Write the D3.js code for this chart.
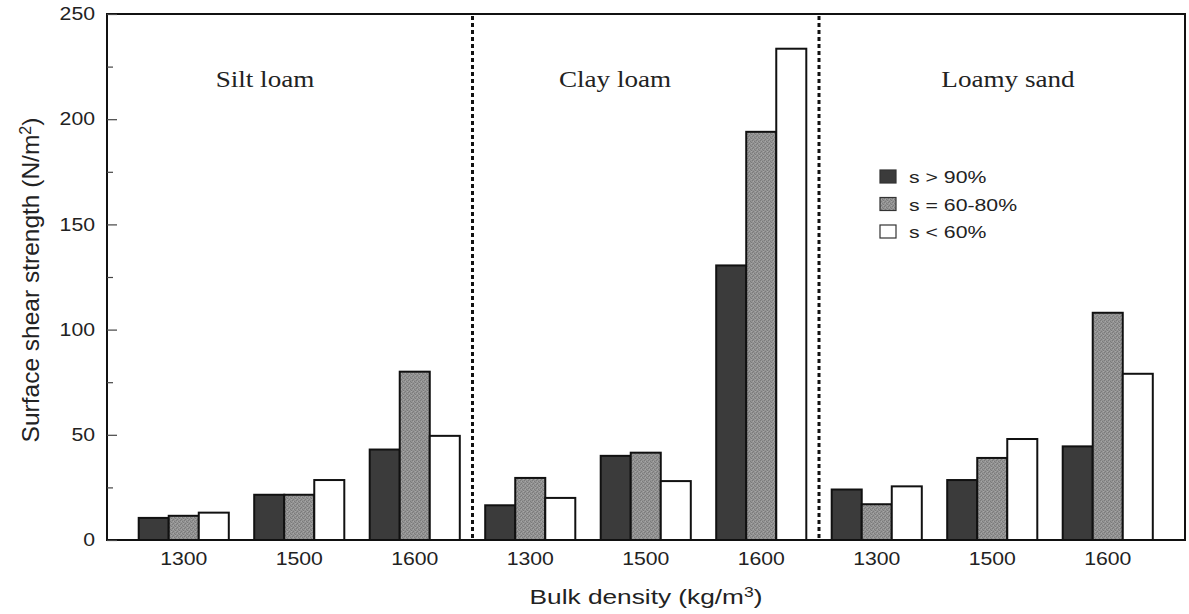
<!DOCTYPE html>
<html>
<head>
<meta charset="utf-8">
<script src="https://cdn.jsdelivr.net/npm/d3@7"></script>
<style>
  body { margin: 0; background: #fff; }
  svg { display: block; }
</style>
</head>
<body>
<svg id="chart" width="1189" height="614"></svg>
<script>
// ---- data ----
const soils = ["Silt loam", "Clay loam", "Loamy sand"];
const densities = ["1300", "1500", "1600"];
const seriesNames = ["s > 90%", "s = 60-80%", "s < 60%"];
// values per soil, per density: [s>90%, s=60-80%, s<60%]
const siltLoam  = [[10.5, 11.5, 13], [21.5, 21.5, 28.5], [43, 80, 49.5]];
const clayLoam  = [[16.5, 29.5, 20], [40, 41.5, 28], [130.5, 194, 233.5]];
const loamySand = [[24, 17, 25.5], [28.5, 39, 48], [44.5, 108, 79]];
const yTicks = [0, 50, 100, 150, 200, 250];
const yMinorTicks = [25, 75, 125, 175, 225];

const soilValues = [siltLoam, clayLoam, loamySand];
const colors = ["#3b3b3b", "#8c8c8c", "#ffffff"];

// ---- layout ----
const svg = d3.select("#chart");
const frame = { left: 107, right: 1185, top: 14, bottom: 540 };
const SANS = "Liberation Sans, Arial, Helvetica, sans-serif";
const SERIF = "Liberation Serif, Times New Roman, serif";
const SX = 1.18; // horizontal stretch of text seen in the reference

const groups = [];
soils.forEach((s, si) => densities.forEach((d, di) => groups.push({ key: si + "-" + di, soil: si, dens: d, vals: soilValues[si][di] })));

const x0 = d3.scaleBand()
  .domain(groups.map(g => g.key))
  .range([126, 1165.5])
  .paddingInner(0.22)
  .paddingOuter(0.11);

const x1 = d3.scaleBand()
  .domain(d3.range(seriesNames.length))
  .range([0, x0.bandwidth()]);

const y = d3.scaleLinear().domain([0, 250]).range([frame.bottom, frame.top]);

// subtle stipple pattern for the middle series
const defs = svg.append("defs");
const pat = defs.append("pattern").attr("id", "stip").attr("patternUnits", "userSpaceOnUse")
  .attr("width", 4).attr("height", 4);
pat.append("rect").attr("width", 4).attr("height", 4).attr("fill", "#939393");
[[0, 0], [2, 1], [1, 3], [3, 2]].forEach(([a, b]) =>
  pat.append("rect").attr("x", a).attr("y", b).attr("width", 1).attr("height", 1).attr("fill", "#7b7b7b"));
[[1, 1], [3, 3]].forEach(([a, b]) =>
  pat.append("rect").attr("x", a).attr("y", b).attr("width", 1).attr("height", 1).attr("fill", "#a6a6a6"));
const fills = [colors[0], "url(#stip)", colors[2]];

// ---- bars ----
const gBars = svg.append("g");
groups.forEach(g => {
  gBars.selectAll(null)
    .data(g.vals)
    .enter().append("rect")
    .attr("x", (v, i) => x0(g.key) + x1(i))
    .attr("y", v => y(v))
    .attr("width", x1.bandwidth())
    .attr("height", v => y(0) - y(v))
    .attr("fill", (v, i) => fills[i])
    .attr("stroke", "#111")
    .attr("stroke-width", 2);
});

// ---- dashed dividers ----
[1, 2].forEach(k => {
  const a = x0(groups[k * 3 - 1].key) + x0.bandwidth();
  const b = x0(groups[k * 3].key);
  const xm = (a + b) / 2;
  svg.append("line")
    .attr("x1", xm).attr("x2", xm)
    .attr("y1", frame.top + 2).attr("y2", frame.bottom - 2)
    .attr("stroke", "#111")
    .attr("stroke-width", 3)
    .attr("stroke-dasharray", "4,3");
});

// ---- frame ----
svg.append("rect")
  .attr("x", frame.left).attr("y", frame.top)
  .attr("width", frame.right - frame.left)
  .attr("height", frame.bottom - frame.top)
  .attr("fill", "none")
  .attr("stroke", "#111")
  .attr("stroke-width", 2);

// ---- y axis ----
const yAxis = d3.axisRight(y).tickValues(yTicks).tickSize(10).tickFormat("");
const gy = svg.append("g").attr("transform", `translate(${frame.left},0)`).call(yAxis);
gy.select(".domain").remove();
gy.selectAll(".tick line").attr("stroke", "#444").attr("stroke-width", 1.2);

const yMinor = d3.axisRight(y).tickValues(yMinorTicks).tickSize(6).tickFormat("");
const gym = svg.append("g").attr("transform", `translate(${frame.left},0)`).call(yMinor);
gym.select(".domain").remove();
gym.selectAll(".tick line").attr("stroke", "#444").attr("stroke-width", 1.2);

const yLab = d3.axisLeft(y).tickValues(yTicks).tickSize(0).tickPadding(12);
const gyl = svg.append("g").attr("transform", `translate(${frame.left},0)`).call(yLab);
gyl.select(".domain").remove();
gyl.selectAll(".tick text")
  .attr("font-family", SANS)
  .attr("font-size", 18).attr("fill", "#222")
  .attr("x", -12 / SX)
  .attr("transform", `scale(${SX},1)`);

// ---- x axis labels ----
const xAxis = d3.axisBottom(x0).tickSize(0).tickPadding(12).tickFormat(k => groups.find(g => g.key === k).dens);
const gx = svg.append("g").attr("transform", `translate(0,${frame.bottom})`).call(xAxis);
gx.select(".domain").remove();
gx.selectAll(".tick text")
  .attr("font-family", SANS)
  .attr("font-size", 18).attr("fill", "#222")
  .attr("transform", `scale(${SX},1)`);

// ---- axis titles ----
const xt = svg.append("text")
  .attr("transform", `translate(646,604) scale(1.25,1)`)
  .attr("text-anchor", "middle")
  .attr("font-family", SANS)
  .attr("font-size", 21).attr("fill", "#222");
xt.append("tspan").text("Bulk density (kg/m");
xt.append("tspan").attr("baseline-shift", "super").attr("font-size", 14).text("3");
xt.append("tspan").text(")");

const yt = svg.append("text")
  .attr("transform", "translate(39,280) rotate(-90)")
  .attr("text-anchor", "middle")
  .attr("font-family", SANS)
  .attr("font-size", 24.5).attr("fill", "#222");
yt.append("tspan").text("Surface shear strength (N/m");
yt.append("tspan").attr("baseline-shift", "super").attr("font-size", 16).text("2");
yt.append("tspan").text(")");

// ---- region labels ----
const labelCx = [265, 615, 1008];
soils.forEach((s, si) => {
  svg.append("text")
    .attr("transform", `translate(${labelCx[si]},87) scale(1.18,1)`)
    .attr("text-anchor", "middle")
    .attr("font-family", SERIF)
    .attr("font-size", 23).attr("fill", "#222")
    .text(s);
});

// ---- legend ----
const lg = svg.append("g").attr("transform", "translate(880,170)");
seriesNames.forEach((n, i) => {
  lg.append("rect")
    .attr("x", 0).attr("y", i * 27.5)
    .attr("width", 16).attr("height", 13)
    .attr("fill", fills[i])
    .attr("stroke", "#333").attr("stroke-width", 1.2);
  lg.append("text")
    .attr("transform", `translate(29,${i * 27.5 + 13}) scale(1.25,1)`)
    .attr("font-family", SANS)
    .attr("font-size", 17).attr("fill", "#222")
    .text(n);
});
</script>
</body>
</html>
